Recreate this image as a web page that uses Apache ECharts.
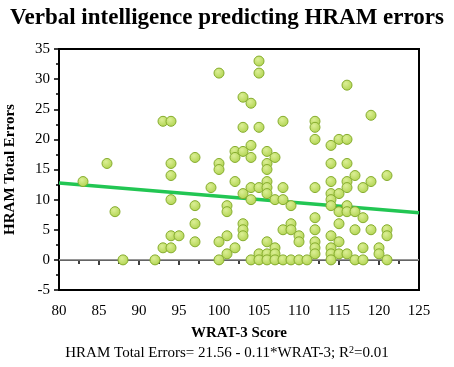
<!DOCTYPE html>
<html>
<head>
<meta charset="utf-8">
<script src="https://cdn.jsdelivr.net/npm/echarts@6/dist/echarts.min.js"></script>
<style>
  html, body { margin: 0; padding: 0; background: #fff; }
  #chart { width: 454px; height: 367px; }
</style>
</head>
<body>
<div id="chart"></div>
<script>
// WRAT-3 score (x) and HRAM total errors (y)
var wratScores = [
  83, 86, 87, 88, 92,
  93, 93,
  94, 94, 94, 94, 94, 94,
  95,
  97, 97, 97, 97,
  99,
  100, 100, 100, 100, 100,
  101, 101, 101, 101,
  102, 102, 102, 102,
  103, 103, 103, 103, 103, 103, 103,
  104, 104, 104, 104, 104, 104,
  105, 105, 105, 105, 105, 105,
  106, 106, 106, 106, 106, 106, 106, 106, 106,
  107, 107, 107, 107, 107,
  108, 108, 108, 108, 108,
  109, 109, 109, 109,
  110, 110, 110,
  111,
  112, 112, 112, 112, 112, 112, 112, 112, 112,
  114, 114, 114, 114, 114, 114, 114, 114, 114, 114,
  115, 115, 115, 115, 115, 115,
  116, 116, 116, 116, 116, 116, 116, 116,
  117, 117, 117, 117,
  118, 118, 118, 118,
  119, 119, 119,
  120, 120,
  121, 121, 121, 121
];
var hramErrors = [
  13, 16, 8, 0, 0,
  23, 2,
  23, 16, 14, 10, 4, 2,
  4,
  17, 9, 6, 3,
  12,
  31, 16, 15, 3, 0,
  9, 8, 4, 1,
  18, 17, 13, 2,
  27, 22, 18, 11, 6, 5, 4,
  26, 19, 17, 12, 10, 0,
  33, 31, 22, 12, 1, 0,
  18, 16, 15, 13, 12, 11, 3, 1, 0,
  17, 10, 2, 1, 0,
  23, 12, 10, 5, 0,
  9, 6, 5, 0,
  4, 3, 0,
  0,
  23, 22, 20, 12, 7, 5, 3, 2, 1,
  19, 16, 13, 11, 10, 9, 4, 2, 1, 0,
  20, 11, 8, 6, 3, 1,
  29, 20, 16, 13, 12, 9, 8, 1,
  14, 8, 5, 0,
  12, 7, 2, 0,
  24, 13, 5,
  2, 1,
  14, 5, 4, 0
];

// regression from the caption
var fitIntercept = 21.56;
var fitSlope = -0.11;
var xTicks = [80, 85, 90, 95, 100, 105, 110, 115, 120, 125];
var yTicks = [-5, 0, 5, 10, 15, 20, 25, 30, 35];

var points = wratScores.map(function (x, i) { return [x, hramErrors[i]]; });
var xMin = xTicks[0], xMax = xTicks[xTicks.length - 1];
var fitLine = [xMin, xMax].map(function (x) { return [x, fitIntercept + fitSlope * x]; });

var serif = '"Liberation Serif", "Times New Roman", serif';
var myChart = echarts.init(document.getElementById('chart'));

option = {
  animation: false,
  title: [
    {
      text: 'Verbal intelligence predicting HRAM errors',
      left: 'center', top: 2,
      textStyle: { fontFamily: serif, fontWeight: 'bold', fontSize: 23, color: '#000' }
    },
    {
      text: 'HRAM Total Errors= ' + fitIntercept + ' - ' + Math.abs(fitSlope) + '*WRAT-3; R{s|2}=0.01',
      left: 'center', top: 340,
      textStyle: {
        fontFamily: serif, fontWeight: 'normal', fontSize: 15, color: '#000',
        rich: { s: { fontFamily: serif, fontSize: 10, verticalAlign: 'top', padding: [0, 0, 6, 0], color: '#000' } }
      }
    }
  ],
  grid: {
    left: 59, right: 35, top: 49, bottom: 77,
    outerBoundsMode: 'none', containLabel: false,
    show: true, borderColor: '#000', borderWidth: 2, backgroundColor: '#fff'
  },
  xAxis: {
    type: 'value', min: xMin, max: xMax, interval: 5,
    name: 'WRAT-3 Score', nameLocation: 'middle', nameGap: 36,
    nameTextStyle: { fontFamily: serif, fontWeight: 'bold', fontSize: 15, color: '#000' },
    axisLine: { lineStyle: { color: '#000', width: 2 } },
    axisTick: { length: 5, lineStyle: { color: '#000', width: 1.5 } },
    minorTick: { show: true, splitNumber: 2, length: 4, lineStyle: { color: '#000', width: 1.5 } },
    axisLabel: { fontFamily: serif, fontSize: 15, color: '#000', margin: 14 },
    splitLine: { show: false }
  },
  yAxis: {
    type: 'value', min: yTicks[0], max: yTicks[yTicks.length - 1], interval: 5,
    name: 'HRAM Total Errors', nameLocation: 'middle', nameGap: 41,
    nameTextStyle: { fontFamily: serif, fontWeight: 'bold', fontSize: 15, color: '#000' },
    axisLine: { lineStyle: { color: '#000', width: 2 } },
    axisTick: { length: 5, lineStyle: { color: '#000', width: 1.5 } },
    minorTick: { show: true, splitNumber: 2, length: 3, lineStyle: { color: '#000', width: 1.5 } },
    axisLabel: { fontFamily: serif, fontSize: 15, color: '#000', margin: 9 },
    splitLine: { show: false }
  },
  series: [
    {
      type: 'line',
      data: [[xMin, 0], [xMax, 0]],
      symbol: 'none', silent: true, z: 1,
      lineStyle: { color: '#c8c8c8', width: 1.2 }
    },
    {
      type: 'line',
      data: fitLine,
      symbol: 'none', silent: true, z: 2,
      lineStyle: { color: '#22c653', width: 3.5 }
    },
    {
      type: 'scatter',
      data: points,
      symbolSize: 10, z: 3,
      itemStyle: {
        color: {
          type: 'radial', x: 0.4, y: 0.35, r: 0.7,
          colorStops: [{ offset: 0, color: '#dcef96' }, { offset: 1, color: '#aed24c' }]
        },
        borderColor: '#86ad2e', borderWidth: 1, opacity: 1
      }
    }
  ]
};

myChart.setOption(option);
window.addEventListener("resize", function () {
  myChart.resize();
});
</script>
</body>
</html>
